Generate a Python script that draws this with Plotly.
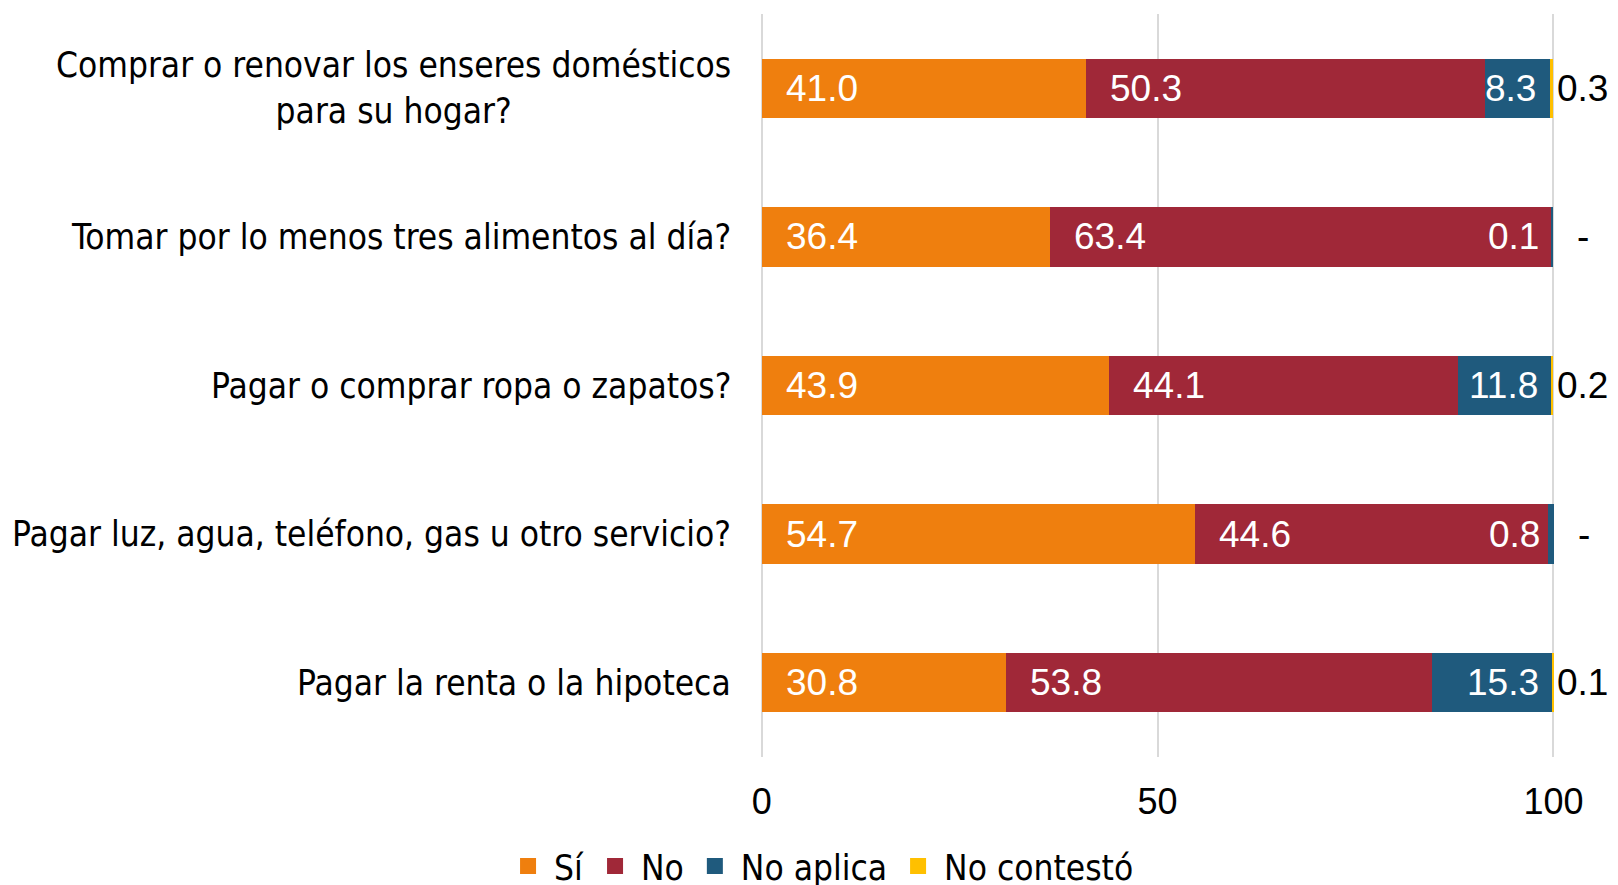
import plotly.graph_objects as go

categories = [
    "Comprar o renovar los enseres domésticos<br>para su hogar?",
    "Tomar por lo menos tres alimentos al día?",
    "Pagar o comprar ropa o zapatos?",
    "Pagar luz, agua, teléfono, gas u otro servicio?",
    "Pagar la renta o la hipoteca",
]
si = [41.0, 36.4, 43.9, 54.7, 30.8]
no = [50.3, 63.4, 44.1, 44.6, 53.8]
no_aplica = [8.3, 0.1, 11.8, 0.8, 15.3]
no_contesto = [0.3, 0.0, 0.2, 0.0, 0.1]
no_contesto_text = ["0.3", "-", "0.2", "-", "0.1"]

colors = {"Sí": "#EF7F0E", "No": "#A02838", "No aplica": "#1F5A7D", "No contestó": "#FFC000"}
narrow = "DejaVu Sans Condensed, Liberation Sans Narrow, sans-serif"
label_font = dict(family="Liberation Sans, Arial, sans-serif", size=37, color="white")
out_font = dict(family="Liberation Sans, Arial, sans-serif", size=37, color="black")

fig = go.Figure()
series = [("Sí", si), ("No", no), ("No aplica", no_aplica), ("No contestó", no_contesto)]
for name, vals in series:
    fig.add_trace(go.Bar(y=categories, x=vals, name=name, orientation="h",
                         marker=dict(color=colors[name], line=dict(width=0)),
                         textposition="none", showlegend=False))
    # legend entry with a larger square swatch
    fig.add_trace(go.Scatter(x=[None], y=[None], mode="markers", name=name,
                             marker=dict(symbol="square", size=16, color=colors[name])))

# data labels placed by data coordinates
for cat, a, b, c, d, t in zip(categories, si, no, no_aplica, no_contesto, no_contesto_text):
    fig.add_annotation(x=0, y=cat, text=f"{a:.1f}", showarrow=False, xanchor="left",
                       xshift=22, font=label_font)
    fig.add_annotation(x=a, y=cat, text=f"{b:.1f}", showarrow=False, xanchor="left",
                       xshift=22, font=label_font)
    fig.add_annotation(x=a + b + c, y=cat, text=f"{c:.1f}", showarrow=False, xanchor="right",
                       xshift=-12, font=label_font)
    if t == "-":
        fig.add_annotation(x=a + b + c + d, y=cat, text=t, showarrow=False, xanchor="center",
                           xshift=30, font=out_font)
    else:
        fig.add_annotation(x=a + b + c + d, y=cat, text=t, showarrow=False, xanchor="left",
                           xshift=2, font=out_font)
    fig.add_annotation(x=0, y=cat, xref="paper", text=cat, showarrow=False, xanchor="right",
                       align="center", xshift=-28,
                       font=dict(family=narrow, size=35, color="black"))

fig.update_layout(
    barmode="stack",
    bargap=0.6,
    width=1618,
    height=885,
    margin=dict(l=753, r=71, t=6, b=136, autoexpand=False),
    plot_bgcolor="white",
    paper_bgcolor="white",
    showlegend=True,
    legend=dict(orientation="h", x=0.075, xanchor="center", y=-0.147, yanchor="middle",
                font=dict(family=narrow, size=35, color="black"),
                traceorder="normal", itemwidth=42, tracegroupgap=0),
    xaxis=dict(range=[-0.1, 100.2], tickvals=[0, 50, 100], showgrid=True, gridcolor="#D9D9D9",
               gridwidth=2, zeroline=True, zerolinecolor="#D9D9D9", zerolinewidth=2,
               showline=False,
               tickfont=dict(family="Liberation Sans, Arial, sans-serif", size=36, color="black"),
               ticks="", ticklabelstandoff=20),
    yaxis=dict(autorange="reversed", showticklabels=False, showgrid=False, zeroline=False),
)

fig.write_html("out.html")
